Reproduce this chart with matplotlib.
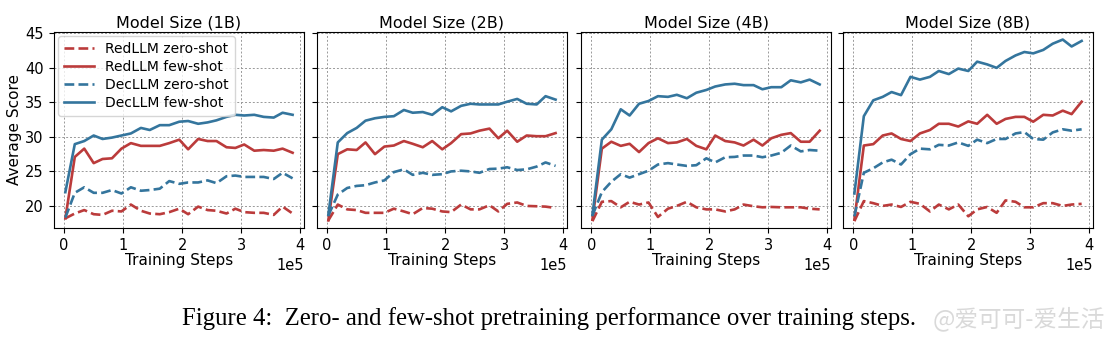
import matplotlib
matplotlib.use("Agg")
import matplotlib.pyplot as plt

# training steps (shared by every curve)
steps = [2000, 18000, 34000, 50000, 65000, 81000, 97000, 113000, 130000,
         145000, 162000, 178000, 195000, 210000, 227000, 243000, 258000,
         275000, 290000, 305000, 322000, 338000, 355000, 370000, 387000]

sizes = ["1B", "2B", "4B", "8B"]

red_zero = {
    "1B": [18.2, 18.9, 19.4, 18.8, 18.7, 19.3, 19.2, 20.2, 19.3, 18.9, 18.8, 19.1, 19.6,
           18.8, 19.9, 19.4, 19.3, 18.9, 19.6, 19.1, 19.0, 19.0, 18.7, 19.9, 18.9],
    "2B": [17.9, 20.2, 19.5, 19.4, 19.0, 19.0, 19.0, 19.6, 19.2, 18.8, 19.7, 19.6, 19.2,
           19.1, 20.2, 19.5, 19.5, 20.1, 19.2, 20.3, 20.5, 20.0, 19.95, 19.9, 19.7],
    "4B": [17.8, 20.6, 20.7, 19.8, 20.6, 20.2, 20.5, 18.4, 19.6, 20.0, 20.6, 19.8, 19.5,
           19.5, 19.2, 19.5, 20.2, 19.95, 19.8, 19.85, 19.8, 19.8, 19.8, 19.6, 19.5],
    "8B": [17.8, 20.7, 20.4, 20.0, 20.2, 19.85, 20.6, 20.3, 19.2, 20.2, 19.5, 20.2, 18.5,
           19.5, 19.85, 19.0, 20.8, 20.6, 19.8, 19.8, 20.4, 20.4, 20.0, 20.2, 20.3],
}
red_few = {
    "1B": [18.2, 27.1, 28.3, 26.2, 26.8, 26.9, 28.3, 29.1, 28.7, 28.7, 28.7, 29.1, 29.6,
           28.2, 29.7, 29.4, 29.4, 28.5, 28.4, 28.9, 28.0, 28.1, 28.0, 28.3, 27.7],
    "2B": [17.9, 27.5, 28.2, 28.1, 29.2, 27.5, 28.6, 28.75, 29.4, 29.0, 28.5, 29.4, 28.2,
           29.1, 30.4, 30.5, 30.9, 31.2, 29.8, 30.9, 29.3, 30.2, 30.1, 30.1, 30.55],
    "4B": [18.0, 28.3, 29.3, 28.7, 29.0, 27.8, 29.1, 29.8, 29.1, 29.2, 29.7, 28.7, 28.2,
           30.2, 29.4, 29.2, 28.75, 29.6, 28.75, 29.8, 30.3, 30.55, 29.3, 29.3, 30.9],
    "8B": [18.0, 28.75, 28.95, 30.2, 30.5, 29.7, 29.4, 30.5, 31.0, 31.9, 31.9, 31.5, 32.25,
           31.9, 33.2, 31.9, 32.6, 32.9, 32.9, 32.2, 33.2, 33.1, 33.8, 33.3, 35.1],
}
dec_zero = {
    "1B": [18.3, 21.9, 22.7, 21.9, 21.9, 22.3, 21.8, 22.7, 22.2, 22.3, 22.5, 23.6, 23.2,
           23.4, 23.4, 23.7, 23.3, 24.3, 24.4, 24.2, 24.2, 24.2, 23.9, 24.8, 24.0],
    "2B": [18.6, 21.65, 22.6, 22.9, 23.0, 23.4, 23.7, 24.9, 25.3, 24.5, 24.8, 24.5, 24.6,
           25.0, 25.1, 25.0, 24.8, 25.35, 25.4, 25.6, 25.2, 25.3, 25.7, 26.3, 25.8],
    "4B": [18.6, 22.0, 23.5, 24.6, 24.1, 24.6, 25.1, 26.0, 26.2, 26.0, 25.8, 25.9, 26.9,
           26.3, 27.05, 27.1, 27.3, 27.3, 27.05, 27.3, 27.7, 28.75, 27.9, 28.1, 28.0],
    "8B": [18.5, 24.8, 25.45, 26.3, 26.7, 26.0, 27.5, 28.3, 28.2, 28.85, 28.75, 29.2, 28.7,
           29.6, 29.1, 29.7, 29.7, 30.5, 30.7, 29.7, 29.6, 30.65, 31.1, 30.9, 31.1],
}
dec_few = {
    "1B": [22.0, 28.95, 29.4, 30.2, 29.7, 29.9, 30.2, 30.5, 31.3, 31.0, 31.7, 31.7, 32.2,
           32.3, 31.9, 32.1, 32.4, 32.9, 33.2, 33.1, 33.2, 32.9, 32.8, 33.5, 33.2],
    "2B": [18.7, 29.2, 30.55, 31.3, 32.35, 32.7, 32.9, 33.0, 33.9, 33.5, 33.6, 33.2, 34.3,
           33.7, 34.5, 34.8, 34.7, 34.7, 34.7, 35.1, 35.5, 34.8, 34.7, 35.9, 35.4],
    "4B": [18.7, 29.6, 31.1, 34.0, 33.1, 34.8, 35.2, 35.9, 35.8, 36.1, 35.6, 36.4, 36.8,
           37.3, 37.6, 37.7, 37.5, 37.5, 36.9, 37.2, 37.2, 38.2, 37.9, 38.3, 37.6],
    "8B": [21.8, 33.0, 35.3, 35.8, 36.5, 36.05, 38.7, 38.3, 38.7, 39.55, 39.1, 39.9, 39.55,
           40.9, 40.5, 40.0, 41.0, 41.8, 42.3, 42.1, 42.6, 43.5, 44.1, 43.1, 43.9],
}

red = "#bb3b3b"
blue = "#34759d"

fig = plt.figure(figsize=(11.11, 3.38), dpi=100)
lefts = [0.0486, 0.2853, 0.523, 0.7588]

axes = []
for i, s in enumerate(sizes):
    ax = fig.add_axes([lefts[i], 0.3254, 0.225, 0.58], sharey=axes[0] if axes else None)
    axes.append(ax)
    ax.plot(steps, red_zero[s], color=red, ls="--", lw=1.9, label="RedLLM zero-shot")
    ax.plot(steps, red_few[s], color=red, ls="-", lw=1.9, label="RedLLM few-shot")
    ax.plot(steps, dec_zero[s], color=blue, ls="--", lw=1.9, label="DecLLM zero-shot")
    ax.plot(steps, dec_few[s], color=blue, ls="-", lw=1.9, label="DecLLM few-shot")
    ax.set_title("Model Size (%s)" % s, fontsize=11.5, pad=3)
    ax.set_xlabel("Training Steps", fontsize=11, labelpad=0)
    ax.grid(True, ls=(0, (2, 2)), color="#999999", lw=0.7)
    ax.tick_params(labelsize=10.5, pad=4)
    ax.set_xticks([0, 100000, 200000, 300000, 400000])
    ax.ticklabel_format(axis="x", style="sci", scilimits=(0, 0))
    ax.xaxis.get_offset_text().set_fontsize(10.5)
    if i > 0:
        ax.tick_params(labelleft=False)

axes[0].set_ylim(16.8, 45.2)
axes[0].set_yticks([20, 25, 30, 35, 40, 45])
axes[0].set_ylabel("Average Score", fontsize=11, labelpad=2)
axes[0].legend(loc="upper left", fontsize=10, framealpha=0.8, borderaxespad=0.3,
               handlelength=2.2, labelspacing=0.3)

fig.text(0.494, 0.058, "Figure 4:  Zero- and few-shot pretraining performance over training steps.",
         ha="center", va="center", fontsize=17.8, family="Liberation Serif")
fig.text(0.995, 0.058, "@爱可可-爱生活", ha="right", va="center", fontsize=17,
         color="#d0d0d0", alpha=0.8, family=["Noto Sans CJK SC", "DejaVu Sans"])

fig.savefig("out.png", dpi=100)
